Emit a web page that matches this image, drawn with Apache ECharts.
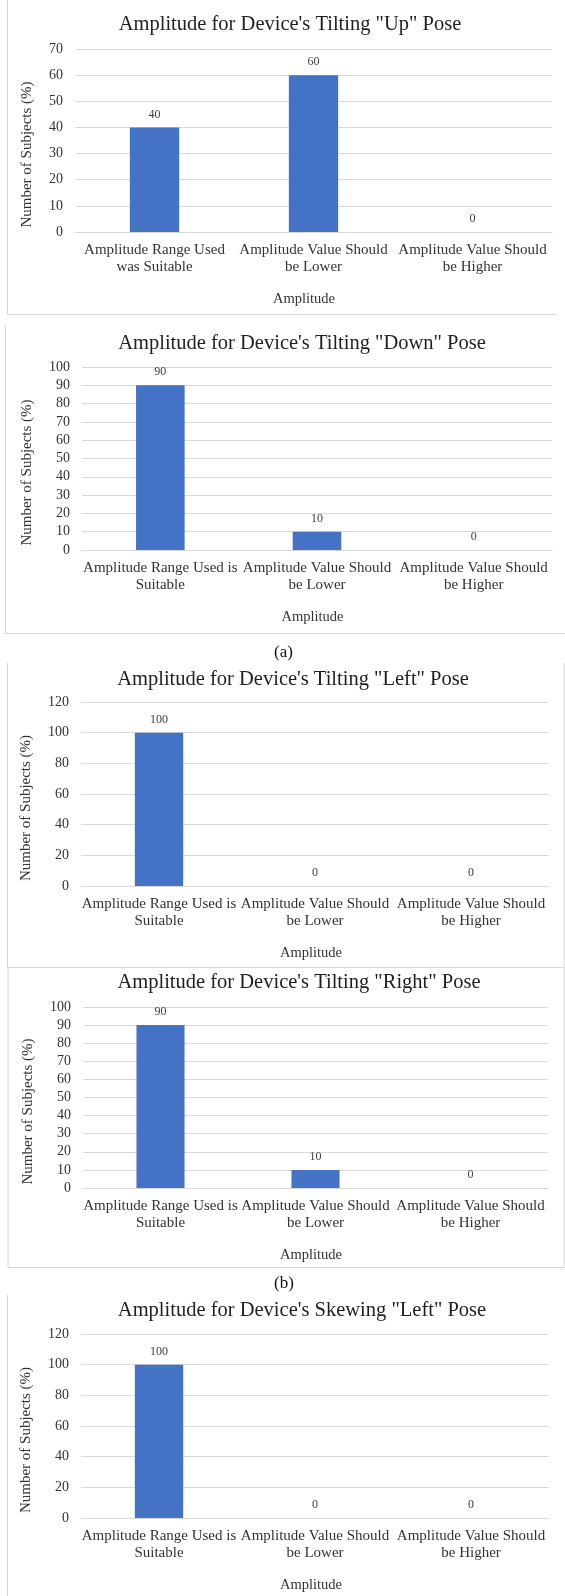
<!DOCTYPE html>
<html>
<head>
<meta charset="utf-8">
<script src="https://cdn.jsdelivr.net/npm/echarts@6/dist/echarts.min.js"></script>
<style>
  html, body { margin: 0; padding: 0; background: #ffffff; }
  #chart { width: 565px; height: 1596px; }
</style>
</head>
<body>
<div id="chart"></div>
<script>
// ---------- data ----------
const titles = [
  'Amplitude for Device\'s Tilting "Up" Pose',
  'Amplitude for Device\'s Tilting "Down" Pose',
  'Amplitude for Device\'s Tilting "Left" Pose',
  'Amplitude for Device\'s Tilting "Right" Pose',
  'Amplitude for Device\'s Skewing "Left" Pose'
];
const categoriesUp = [
  'Amplitude Range Used\nwas Suitable',
  'Amplitude Value Should\nbe Lower',
  'Amplitude Value Should\nbe Higher'
];
const categoriesStd = [
  'Amplitude Range Used is\nSuitable',
  'Amplitude Value Should\nbe Lower',
  'Amplitude Value Should\nbe Higher'
];
const valuesTiltUp    = [40, 60, 0];
const valuesTiltDown  = [90, 10, 0];
const valuesTiltLeft  = [100, 0, 0];
const valuesTiltRight = [90, 10, 0];
const valuesSkewLeft  = [100, 0, 0];
const yMaxes     = [70, 100, 120, 100, 120];
const yIntervals = [10, 10, 20, 10, 20];
const xAxisName = 'Amplitude';
const yAxisName = 'Number of Subjects (%)';
const panelLabels = ['(a)', '(b)'];

const seriesValues = [valuesTiltUp, valuesTiltDown, valuesTiltLeft, valuesTiltRight, valuesSkewLeft];
const seriesCategories = [categoriesUp, categoriesStd, categoriesStd, categoriesStd, categoriesStd];

// ---------- layout ----------
const FONT = "'Liberation Serif', 'Times New Roman', serif";
const layout = [
  { left: 75, right: 13, top: 49,   height: 183, titleX: 290, titleY: 25,   yGap: 40, namePad: 19 },
  { left: 82, right: 13, top: 367,  height: 183, titleX: 302, titleY: 344,  yGap: 47, namePad: 9 },
  { left: 81, right: 16, top: 702,  height: 184, titleX: 293, titleY: 680,  yGap: 47, namePad: 8 },
  { left: 83, right: 17, top: 1007, height: 181, titleX: 299, titleY: 983,  yGap: 47, namePad: 9 },
  { left: 81, right: 16, top: 1334, height: 184, titleX: 302, titleY: 1311, yGap: 47, namePad: 8 }
];

const grid = [], xAxis = [], yAxis = [], series = [], title = [];
layout.forEach((L, i) => {
  grid.push({ left: L.left, right: L.right, top: L.top, height: L.height, containLabel: false });
  title.push({
    text: titles[i], left: L.titleX, top: L.titleY, padding: 0,
    textAlign: 'center', textVerticalAlign: 'middle',
    textStyle: { fontFamily: FONT, fontSize: 20.5, fontWeight: 'normal', color: '#1f1f1f' }
  });
  xAxis.push({
    type: 'category', gridIndex: i, data: seriesCategories[i],
    axisLine: { show: true, lineStyle: { color: '#d9d9d9', width: 1 } },
    axisTick: { show: false },
    axisLabel: { interval: 0, margin: 10, fontFamily: FONT, fontSize: 15, lineHeight: 17, color: '#333333' },
    name: xAxisName, nameLocation: 'middle', nameGap: 60,
    nameTextStyle: { fontFamily: FONT, fontSize: 14.5, color: '#333333', padding: [0, L.namePad, 0, 0] }
  });
  yAxis.push({
    type: 'value', gridIndex: i, min: 0, max: yMaxes[i], interval: yIntervals[i],
    axisLine: { show: false }, axisTick: { show: false },
    splitLine: { show: true, lineStyle: { color: '#d9d9d9', width: 1 } },
    axisLabel: { margin: 12, fontFamily: FONT, fontSize: 14, color: '#333333' },
    name: yAxisName, nameLocation: 'middle', nameGap: L.yGap,
    nameTextStyle: { fontFamily: FONT, fontSize: 15, color: '#333333', padding: [0, 28, 0, 0] }
  });
  series.push({
    type: 'bar', xAxisIndex: i, yAxisIndex: i, data: seriesValues[i],
    barWidth: '31%',
    itemStyle: { color: '#4472C4' },
    label: { show: true, position: 'top', distance: 7, fontFamily: FONT, fontSize: 12, color: '#404040' },
    silent: true
  });
});

function vline(x, y1, y2) {
  return { type: 'line', shape: { x1: x, y1: y1, x2: x, y2: y2 }, style: { stroke: '#d6d6d6', lineWidth: 1 }, silent: true };
}
function hline(y, x1, x2) {
  return { type: 'line', shape: { x1: x1, y1: y, x2: x2, y2: y }, style: { stroke: '#d6d6d6', lineWidth: 1 }, silent: true };
}

const graphic = [
  // chart 1 frame
  vline(7.5, 0, 314.5), hline(314.5, 7, 557),
  // chart 2 frame
  vline(5.5, 325, 633.5), hline(633.5, 5, 565),
  // chart 3 frame
  vline(7.5, 663, 967.5), vline(564, 663, 967.5), hline(967.5, 7, 564),
  // chart 4 frame
  vline(8, 967.5, 1267.5), vline(564, 967.5, 1267.5), hline(1267.5, 8, 564),
  // chart 5 frame
  vline(7.5, 1295, 1596),
  // panel labels
  { type: 'text', left: 286 - 12, top: 654 - 10, style: { text: panelLabels[0], font: '17px ' + FONT, fill: '#111111' }, silent: true },
  { type: 'text', left: 286 - 12, top: 1285 - 10, style: { text: panelLabels[1], font: '17px ' + FONT, fill: '#111111' }, silent: true }
];

const chart = echarts.init(document.getElementById('chart'), null, { renderer: 'canvas' });
chart.setOption({
  backgroundColor: '#ffffff',
  animation: false,
  title: title,
  grid: grid,
  xAxis: xAxis,
  yAxis: yAxis,
  series: series,
  graphic: graphic
});
</script>
</body>
</html>
